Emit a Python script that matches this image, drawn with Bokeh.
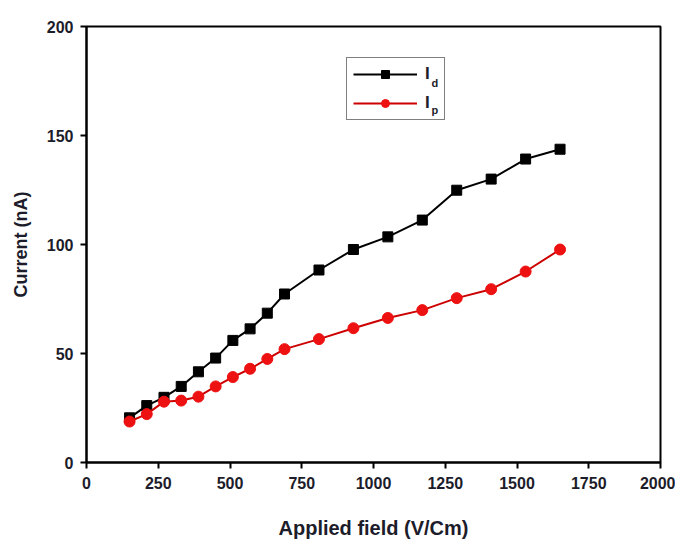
from bokeh.plotting import figure
from bokeh.models import Legend, LegendItem, Label, FixedTicker, Range1d
from bokeh.embed import file_html
from bokeh.resources import INLINE

# data
field = [150, 210, 270, 330, 390, 450, 510, 570, 630, 690, 810, 930, 1050, 1170, 1290, 1410, 1530, 1650]
i_d = [20.5, 26.1, 29.9, 34.9, 41.6, 47.9, 56.0, 61.3, 68.5, 77.3, 88.3, 97.7, 103.5, 111.2, 124.9, 130.0, 139.2, 143.7]
i_p = [18.8, 22.2, 27.9, 28.4, 30.2, 34.9, 39.2, 43.0, 47.5, 52.0, 56.6, 61.6, 66.3, 69.9, 75.4, 79.5, 87.6, 97.7]
x_ticks = [0, 250, 500, 750, 1000, 1250, 1500, 1750, 2000]
y_ticks = [0, 50, 100, 150, 200]

FONT = "Liberation Sans"
TXT = "#1c1c2a"

p = figure(width=675, height=541, output_backend="svg", toolbar_location=None,
           x_range=Range1d(0, 2000), y_range=Range1d(0, 200),
           min_border_left=86, min_border_right=15, min_border_top=26, min_border_bottom=78)
p.grid.visible = False
p.outline_line_color = "black"
p.outline_line_width = 2

for ax, ticks in ((p.xaxis[0], x_ticks), (p.yaxis[0], y_ticks)):
    ax.ticker = FixedTicker(ticks=ticks)
    ax.axis_line_width = 2
    ax.major_tick_line_width = 2
    ax.major_tick_in = 0
    ax.major_tick_out = 6
    ax.minor_tick_line_color = None
    ax.major_label_text_font = FONT
    ax.major_label_text_font_style = "bold"
    ax.major_label_text_font_size = "16px"
    ax.major_label_text_color = TXT
    ax.axis_label_text_font = FONT
    ax.axis_label_text_font_style = "bold"
    ax.axis_label_text_color = TXT

p.xaxis.axis_label = "Applied field (V/Cm)"
p.yaxis.axis_label = "Current (nA)"
p.xaxis.axis_label_text_font_size = "20px"
p.yaxis.axis_label_text_font_size = "18px"
p.xaxis.major_label_standoff = 8
p.yaxis.major_label_standoff = 7
p.xaxis.axis_label_standoff = 25
p.yaxis.axis_label_standoff = 13

l1 = p.line(field, i_d, line_color="black", line_width=2)
s1 = p.scatter(field, i_d, marker="square", size=10, fill_color="black", line_color="black")
l2 = p.line(field, i_p, line_color="#cc0000", line_width=2)
s2 = p.scatter(field, i_p, marker="circle", size=11, fill_color="#ee1111", line_color="#ee1111")

legend = Legend(items=[LegendItem(label="I", renderers=[l1, s1]),
                       LegendItem(label="I", renderers=[l2, s2])],
                location=(260, 342), orientation="vertical",
                glyph_width=64, glyph_height=20, label_height=20, label_width=13,
                label_standoff=8, spacing=9, padding=6, margin=0,
                label_text_font=FONT, label_text_font_style="bold",
                label_text_font_size="17px", label_text_color=TXT,
                border_line_color="black", border_line_width=1.5,
                background_fill_alpha=0.0)
p.add_layout(legend, "center")

# subscripts of the legend labels (I_d, I_p)
for txt, yy in (("d", 171.2), ("p", 158.8)):
    p.add_layout(Label(x=1202, y=yy, text=txt, level="overlay",
                       text_font=FONT, text_font_style="bold", text_font_size="11px",
                       text_color=TXT))

open("out.html", "w").write(file_html(p, INLINE))
